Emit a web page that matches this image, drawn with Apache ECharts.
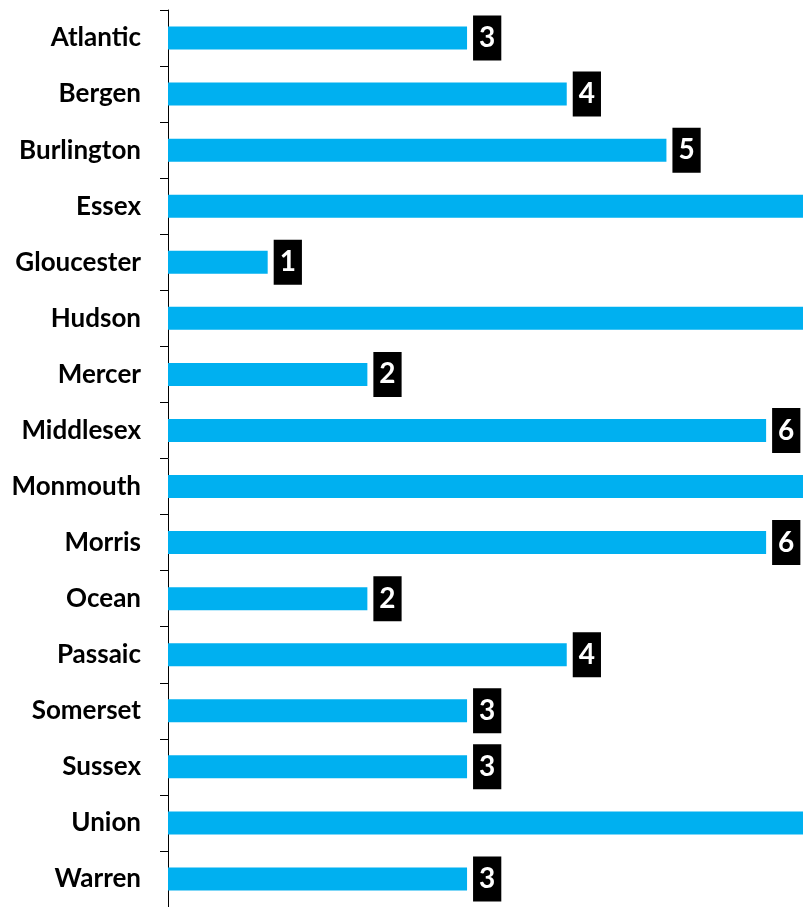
<!DOCTYPE html>
<html>
<head>
<meta charset="utf-8">
<script src="https://cdn.jsdelivr.net/npm/echarts@6/dist/echarts.min.js"></script>
<style>
  html, body { margin: 0; padding: 0; background: #fff; }
  #chart { width: 803px; height: 907px; }
</style>
</head>
<body>
<div id="chart"></div>
<script>
// counties and counts (Essex, Hudson, Monmouth, Union run off the right edge)
const counties = ["Atlantic", "Bergen", "Burlington", "Essex", "Gloucester", "Hudson", "Mercer",
  "Middlesex", "Monmouth", "Morris", "Ocean", "Passaic", "Somerset", "Sussex", "Union", "Warren"];
const counts = [3, 4, 5, 8, 1, 7, 2, 6, 7, 6, 2, 4, 3, 3, 8, 3];

// the visible part of the axis ends at the right edge of the picture
const xMax = 6.37;

let myChart = echarts.init(document.getElementById("chart"));
let option = {
  animation: false,
  grid: {
    left: 168,
    top: 10,
    right: 0,
    height: 900
  },
  xAxis: {
    type: "value",
    min: 0,
    max: xMax,
    show: false
  },
  yAxis: {
    type: "category",
    inverse: true,
    data: counties,
    axisLine: { show: true, lineStyle: { color: "#000", width: 1 } },
    axisTick: { show: true, length: 8, lineStyle: { color: "#000" } },
    axisLabel: {
      margin: 27,
      color: "#000",
      fontFamily: "Lato",
      fontWeight: "bold",
      fontSize: 26
    }
  },
  series: [{
    type: "bar",
    data: counts,
    barWidth: 23,
    clip: true,
    itemStyle: { color: "#00B0F0" },
    label: {
      show: true,
      position: "right",
      distance: 6,
      color: "#fff",
      backgroundColor: "#000",
      fontFamily: "Lato",
      fontWeight: "bold",
      fontSize: 28,
      lineHeight: 29,
      padding: [8, 6]
    }
  }]
};
myChart.setOption(option);
</script>
</body>
</html>
